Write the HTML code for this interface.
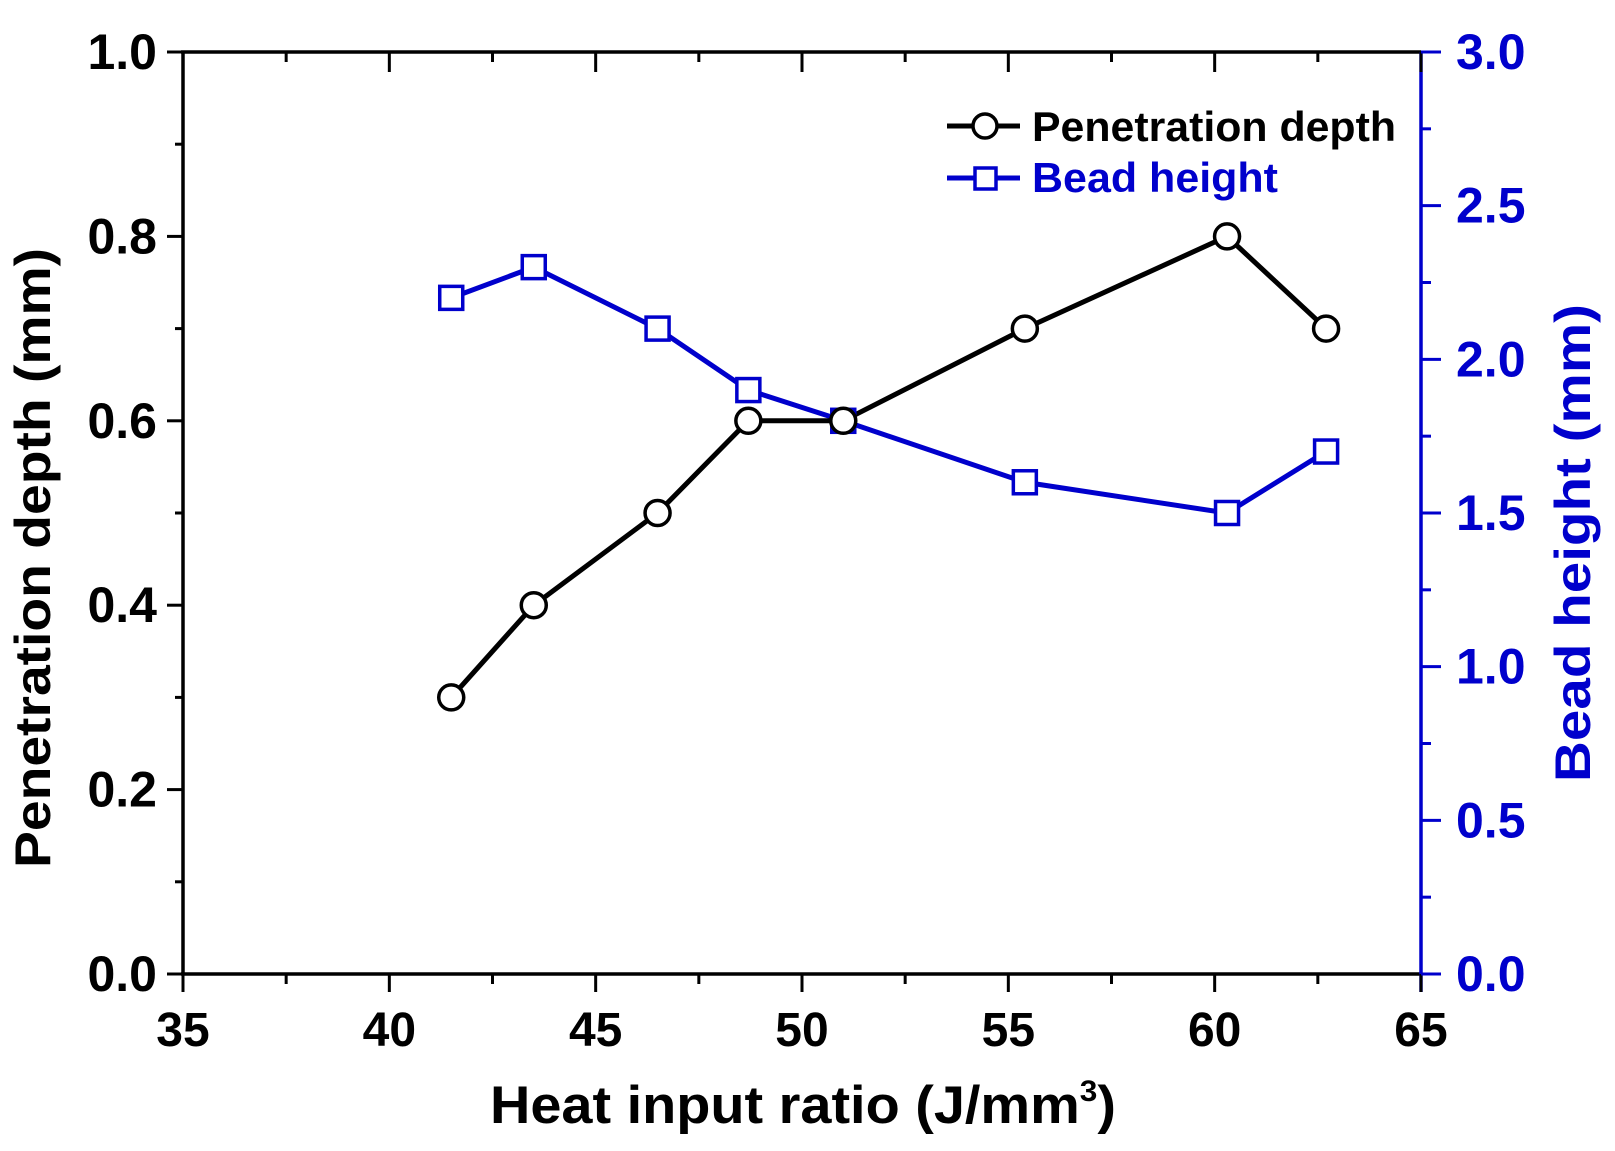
<!DOCTYPE html>
<html><head><meta charset="utf-8"><style>
html,body{margin:0;padding:0;background:#fff}
svg{display:block;font-family:"Liberation Sans",Arial,sans-serif;font-weight:bold}
</style></head><body>
<svg id="chart" width="1615" height="1151" viewBox="0 0 1615 1151">
<g id="axes"></g>
<g id="series"></g>
<g id="legend">
  <line x1="947" y1="126" x2="1020" y2="126" stroke="#000" stroke-width="5"/>
  <circle cx="985" cy="126" r="12" fill="#fff" stroke="#000" stroke-width="3.5"/>
  <text x="1032" y="141" font-size="42" textLength="364" lengthAdjust="spacingAndGlyphs" fill="#000">Penetration depth</text>
  <line x1="947" y1="178" x2="1020" y2="178" stroke="#0000cc" stroke-width="5"/>
  <rect x="975" y="168" width="21" height="21" fill="#fff" stroke="#0000cc" stroke-width="3.5"/>
  <text x="1032" y="192" font-size="42" textLength="246" lengthAdjust="spacingAndGlyphs" fill="#0000cc">Bead height</text>
</g>
<text x="803" y="1123" font-size="53" text-anchor="middle" textLength="626" lengthAdjust="spacingAndGlyphs" fill="#000">Heat input ratio (J/mm<tspan dy="-22" font-size="30">3</tspan><tspan dy="22">)</tspan></text>
<text transform="translate(50,558) rotate(-90)" font-size="50" text-anchor="middle" textLength="620" lengthAdjust="spacingAndGlyphs" fill="#000">Penetration depth (mm)</text>
<text transform="translate(1590,543) rotate(-90)" font-size="50" text-anchor="middle" textLength="478" lengthAdjust="spacingAndGlyphs" fill="#0000cc">Bead height (mm)</text>
</svg>
<script>
const xValues=[41.5,43.5,46.5,48.7,51.0,55.4,60.3,62.7];
const penetration=[0.3,0.4,0.5,0.6,0.6,0.7,0.8,0.7];
const beadHeight=[2.2,2.3,2.1,1.9,1.8,1.6,1.5,1.7];
const xTicks=[35,40,45,50,55,60,65];
const leftTicks=[0.0,0.2,0.4,0.6,0.8,1.0];
const rightTicks=[0.0,0.5,1.0,1.5,2.0,2.5,3.0];
const L=183,R=1421,T=52,B=974;
const BLUE='#0000cc';
const xs=v=>L+(v-35)/30*(R-L);
const yl=v=>B-v/1.0*(B-T);
const yr=v=>B-v/3.0*(B-T);
const NS='http://www.w3.org/2000/svg';
function mk(tag,attrs,parent){const e=document.createElementNS(NS,tag);for(const k in attrs)e.setAttribute(k,attrs[k]);parent.appendChild(e);return e;}
const ax=document.getElementById('axes');
let e;
e=mk('line',{x1:L,y1:T,x2:L,y2:B,stroke:'#000','stroke-width':3.5},ax);


e=mk('line',{x1:L-2,y1:B,x2:R,y2:B,stroke:'#000','stroke-width':3.5},ax);


e=mk('line',{x1:L-2,y1:T,x2:R,y2:T,stroke:'#000','stroke-width':3.5},ax);


e=mk('line',{x1:R,y1:T,x2:R,y2:B+18,stroke:BLUE,'stroke-width':3.5},ax);


for(let i=0;i<xTicks.length;i++){
  const x=xs(xTicks[i]);
  e=mk('line',{x1:x,y1:B,x2:x,y2:B+18,stroke:'#000','stroke-width':3},ax);
  
  
  mk('line',{x1:x,y1:T,x2:x,y2:T+20,stroke:'#000','stroke-width':3},ax);
  e=mk('text',{x:x,y:B+72,'font-size':48,'text-anchor':'middle',fill:'#000'},ax);
  e.textContent=xTicks[i];
  
  
  if(i<xTicks.length-1){const mx=xs(xTicks[i]+2.5);
    mk('line',{x1:mx,y1:B,x2:mx,y2:B+10,stroke:'#000','stroke-width':3},ax);
    mk('line',{x1:mx,y1:T,x2:mx,y2:T+10,stroke:'#000','stroke-width':3},ax);}
}
for(let i=0;i<leftTicks.length;i++){
  const y=yl(leftTicks[i]);
  e=mk('line',{x1:L-16,y1:y,x2:L,y2:y,stroke:'#000','stroke-width':3},ax);
  
  
  e=mk('text',{x:L-26,y:y+17,'font-size':50,'text-anchor':'end',fill:'#000'},ax);
  e.textContent=leftTicks[i].toFixed(1);
  
  
  if(i<leftTicks.length-1){const my=yl(leftTicks[i]+0.1);mk('line',{x1:L-8,y1:my,x2:L,y2:my,stroke:'#000','stroke-width':3},ax);}
}
for(let i=0;i<rightTicks.length;i++){
  const y=yr(rightTicks[i]);
  e=mk('line',{x1:R,y1:y,x2:R+20,y2:y,stroke:BLUE,'stroke-width':3},ax);
  
  
  e=mk('text',{x:R+35,y:y+17,'font-size':50,'text-anchor':'start',fill:BLUE},ax);
  e.textContent=rightTicks[i].toFixed(1);
  
  
  if(i<rightTicks.length-1){const my=yr(rightTicks[i]+0.25);mk('line',{x1:R,y1:my,x2:R+10,y2:my,stroke:BLUE,'stroke-width':3},ax);}
}
const sg=document.getElementById('series');
e=mk('polyline',{points:xValues.map((v,i)=>xs(v)+','+yr(beadHeight[i])).join(' '),fill:'none',stroke:BLUE,'stroke-width':5},sg);


e=mk('polyline',{points:xValues.map((v,i)=>xs(v)+','+yl(penetration[i])).join(' '),fill:'none',stroke:'#000','stroke-width':5},sg);


xValues.forEach((v,i)=>{
  const s=mk('rect',{x:xs(v)-11.5,y:yr(beadHeight[i])-11.5,width:23,height:23,fill:'#fff',stroke:BLUE,'stroke-width':3.5},sg);
  
  
});
xValues.forEach((v,i)=>{
  const c=mk('circle',{cx:xs(v),cy:yl(penetration[i]),r:12.5,fill:'#fff',stroke:'#000','stroke-width':3.5},sg);
  
  
});
</script>
</body></html>
